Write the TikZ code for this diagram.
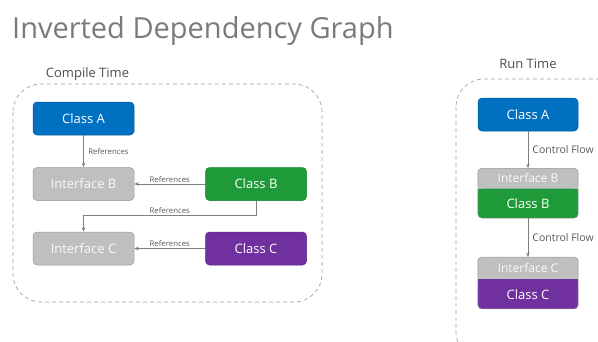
\documentclass[tikz,border=0pt]{standalone}
\usepackage{fontspec}
\setmainfont{Open Sans}
\usetikzlibrary{positioning, arrows.meta, backgrounds}

\definecolor{clsblue}{HTML}{0070C0}
\definecolor{clsgreen}{HTML}{1E9B38}
\definecolor{clspurple}{HTML}{7030A0}
\definecolor{ifgray}{HTML}{BFBFBF}
\definecolor{linegray}{HTML}{7F7F7F}
\definecolor{titlegray}{HTML}{595959}

\begin{document}
\begin{tikzpicture}[x=1pt, y=-1pt, >={Stealth[length=4.5pt, width=3.5pt]},
  box/.style={fill=#1, draw=#1!80!black, line width=0.5pt, rounded corners=4pt, minimum width=101pt,
    minimum height=33pt, inner sep=0, text=white, font=\fontsize{13}{13}\selectfont},
  iface/.style={box=ifgray, text=white!92!ifgray},
  stacked/.style={minimum width=100pt, inner sep=0, text=white, font=\fontsize{#1}{#1}\selectfont},
  ref/.style={->, draw=linegray, line width=0.8pt},
  reflabel/.style={font=\fontsize{7.8}{7.8}\selectfont, text=titlegray, inner sep=1.5pt},
  flowlabel/.style={font=\fontsize{10.5}{10.5}\selectfont, text=titlegray, inner sep=4pt},
  heading/.style={font=\fontsize{13}{13}\selectfont, text=titlegray!85!black, anchor=base, inner sep=0},
  container/.style={draw=ifgray!85!black, dashed, dash pattern=on 4pt off 3pt, line width=0.7pt, rounded corners=28pt}]

  \clip (0,0) rectangle (598,341);

  \node [anchor=base west, inner sep=0, text=titlegray!80, font=\fontsize{29}{29}\selectfont] (title) at (12,38) {Inverted Dependency Graph};

  % compile time side
  \node [heading] (compile) at (87.5,77) {Compile Time};
  \draw [container] (13,84) rectangle (322,302);

  \node [box=clsblue] (ctA) at (83.5,118.5) {Class A};
  \node [iface, below=32pt of ctA] (ctIB) {Interface B};
  \node [iface, below=31pt of ctIB] (ctIC) {Interface C};
  \node [box=clsgreen, right=71pt of ctIB] (ctB) {Class B};
  \node [box=clspurple, right=71pt of ctIC] (ctC) {Class C};

  \draw [ref] (ctA) -- node[reflabel, right=3pt] {References} (ctIB);
  \draw [ref] (ctB) -- node[reflabel, above] {References} (ctIB);
  \draw [ref] (ctB.south) -- ++(0,15) -| node[reflabel, pos=0.25, above] {References} (ctIC.north);
  \draw [ref] (ctC) -- node[reflabel, above] {References} (ctIC);

  % run time side
  \node [heading] (run) at (528,68) {Run Time};
  \draw [container] (456,79) rectangle (650,360);

  \node [box=clsblue, minimum width=100pt] (rtA) at (528,114.5) {Class A};
  \node [stacked=12, minimum height=20pt, text=white!92!ifgray, below=37pt of rtA] (rtIB) {Interface B};
  \node [stacked=13, minimum height=29pt, below=0pt of rtIB] (rtB) {Class B};
  \node [stacked=12, minimum height=22pt, text=white!92!ifgray, below=39pt of rtB] (rtIC) {Interface C};
  \node [stacked=13, minimum height=29pt, below=0pt of rtIC] (rtC) {Class C};

  \begin{scope}[on background layer]
    \fill [ifgray, rounded corners=4pt] (rtIB.north west) rectangle (rtB.south east);
    \fill [clsgreen, rounded corners=4pt] (rtB.north west) rectangle (rtB.south east);
    \fill [clsgreen] (rtB.north west) rectangle (rtB.east);
    \draw [ifgray!80!black, line width=0.5pt, rounded corners=4pt] (rtIB.north west) rectangle (rtB.south east);

    \fill [ifgray, rounded corners=4pt] (rtIC.north west) rectangle (rtC.south east);
    \fill [clspurple, rounded corners=4pt] (rtC.north west) rectangle (rtC.south east);
    \fill [clspurple] (rtC.north west) rectangle (rtC.east);
    \draw [ifgray!80!black, line width=0.5pt, rounded corners=4pt] (rtIC.north west) rectangle (rtC.south east);
  \end{scope}

  \draw [ref] (rtA) -- node[flowlabel, right] {Control Flow} (rtIB);
  \draw [ref] (rtB) -- node[flowlabel, right] {Control Flow} (rtIC);
\end{tikzpicture}
\end{document}
